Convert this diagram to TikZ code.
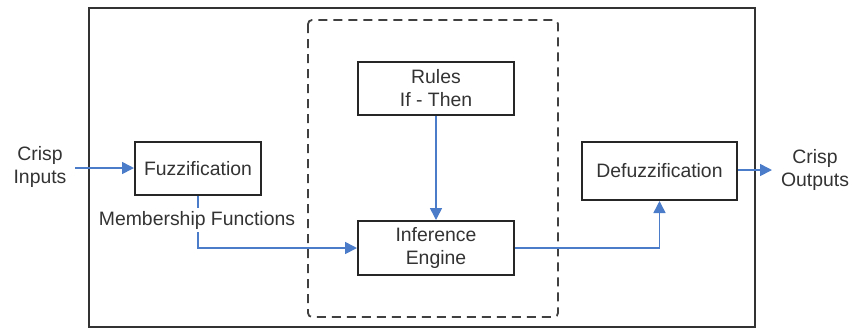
\documentclass[tikz,border=0pt]{standalone}
\usepackage{fontspec}
\setmainfont{Liberation Sans}
\usetikzlibrary{arrows.meta}
\definecolor{flowblue}{HTML}{4A7CC9}
\definecolor{inkgray}{HTML}{333333}
\tikzset{
  stage/.style={draw=black!85, line width=1pt, fill=white, text=inkgray,
    inner sep=0pt, align=center, font=\fontsize{9.7}{11.5}\selectfont},
  label/.style={text=inkgray, align=center, inner sep=1pt,
    font=\fontsize{9.7}{11.2}\selectfont},
  flow/.style={draw=flowblue, line width=0.8pt,
    -{Triangle[length=6pt,width=6pt]}},
}
\begin{document}
\begin{tikzpicture}[x=0.5pt,y=-0.5pt]
\useasboundingbox (0,0) rectangle (851,329);
% system frame
\node[draw=black!80, line width=1pt, minimum width=333pt, minimum height=159.5pt, inner sep=0pt]
  (frame) at (422,167.5) {};
% inference section
\draw[black!75, line width=0.9pt, dash pattern=on 4.5pt off 3pt, rounded corners=2pt]
  (308,20) rectangle (558,317);
% blocks
\node[stage, minimum width=63pt, minimum height=26.5pt] (fuzz) at (198,168.5) {Fuzzification};
\node[stage, minimum width=77.5pt, minimum height=29pt] (defuzz) at (659.5,171) {Defuzzification};
\node[stage, minimum width=78pt, minimum height=26.5pt] (rules) at (436,88.5) {Rules\\If - Then};
\node[stage, minimum width=78pt, minimum height=27pt] (engine) at (436,248) {Inference\\Engine};
% external signals
\node[label] (in) at (40,167) {Crisp\\Inputs};
\coordinate (inend) at (75,168);
\node[label] (out) at (815,170) {Crisp\\Outputs};
\coordinate (outend) at (772,170);
% connectors
\draw[flow] (inend) -- (fuzz.west |- inend);
\draw[flow] (rules.south) -- (engine.north);
\draw[flow] (fuzz.south) -- (fuzz.south |- engine.west) -- (engine.west);
\draw[flow] (engine.east) -- (defuzz.south |- engine.east) -- (defuzz.south);
\draw[flow] (defuzz.east |- outend) -- (outend);
% membership label over the fuzzification link
\node[label, fill=white, inner sep=1.5pt] (mf) at (197,220) {Membership Functions};
\end{tikzpicture}
\end{document}
